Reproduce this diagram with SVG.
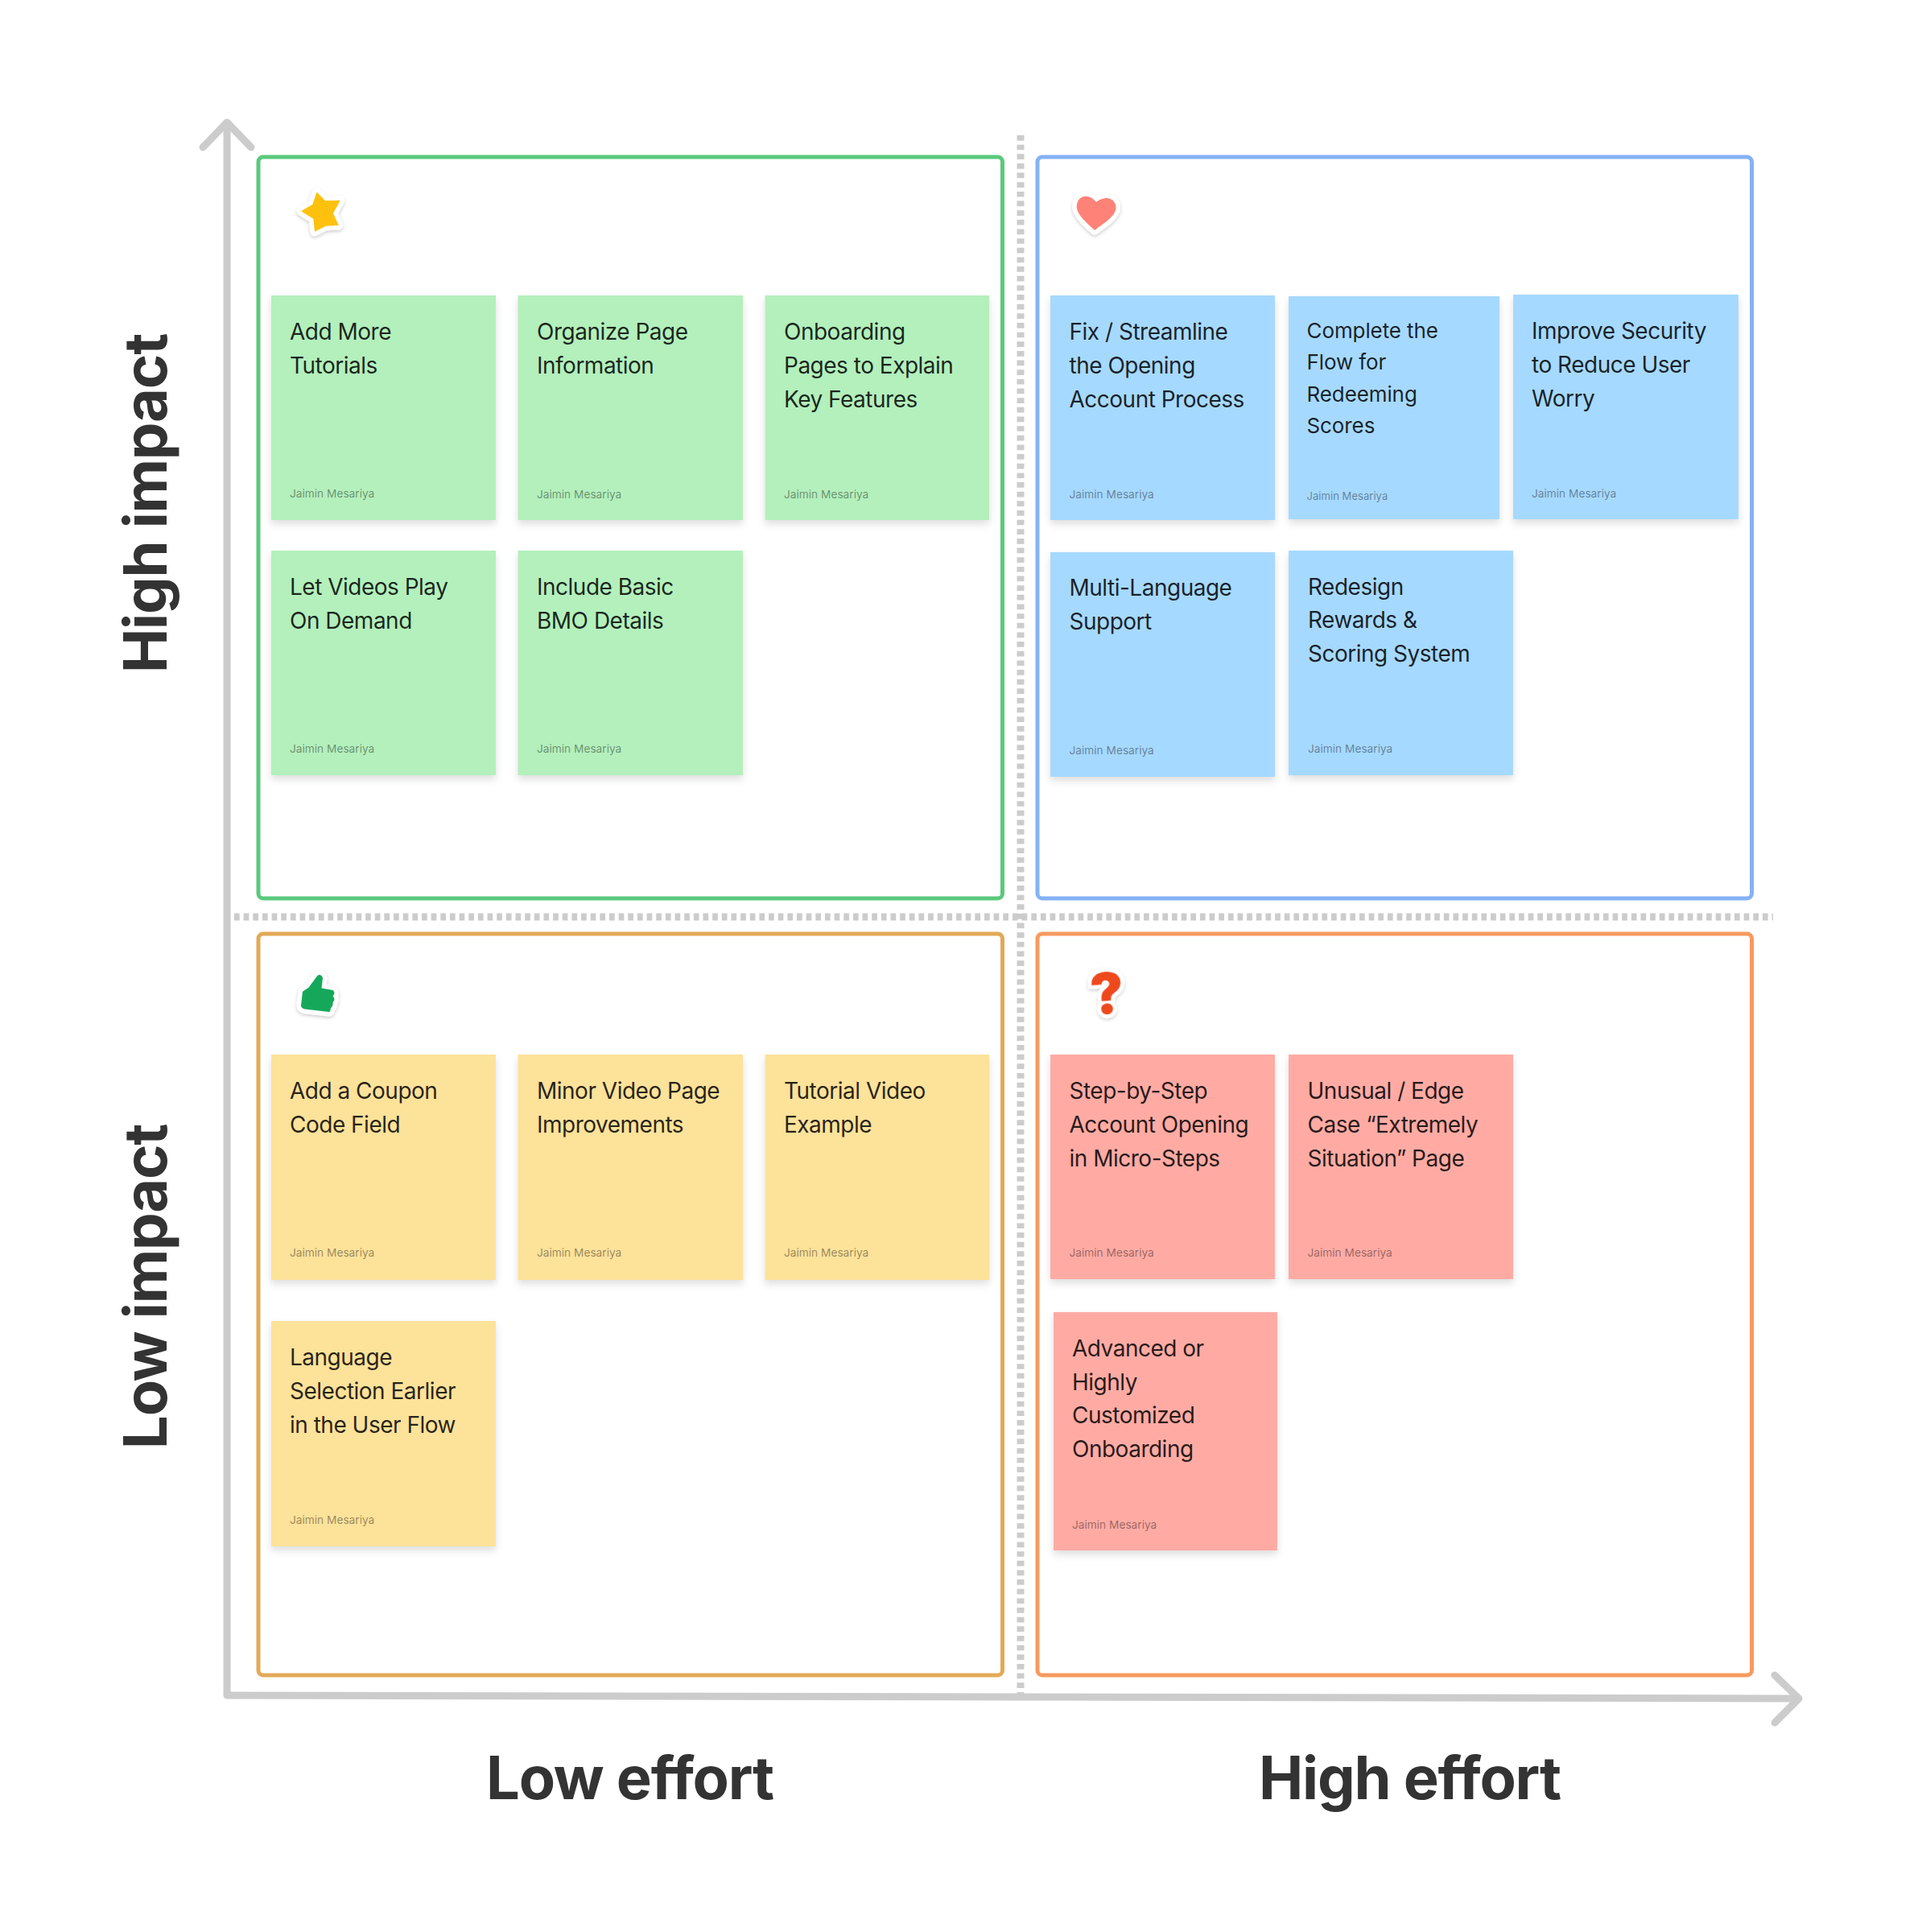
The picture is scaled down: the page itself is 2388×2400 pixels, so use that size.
<svg xmlns="http://www.w3.org/2000/svg" width="2388" height="2400" viewBox="0 0 2388 2400">
<defs>
<filter id="sh" x="-10%" y="-10%" width="120%" height="125%"><feDropShadow dx="0" dy="5" stdDeviation="5" flood-color="#000" flood-opacity="0.13"/></filter>
<filter id="st" x="-30%" y="-30%" width="160%" height="160%"><feDropShadow dx="0" dy="2" stdDeviation="2" flood-color="#000" flood-opacity="0.2"/></filter>
</defs>
<style>
text{font-family:Inter,"Noto Sans","Liberation Sans",sans-serif}
.frame{fill:none;stroke-width:5}
.g{fill:#b3f0bc}.b{fill:#a6d9ff}.y{fill:#fde29a}.r{fill:#ffaba4}
.card{filter:url(#sh)}
.t{font-size:28px;letter-spacing:-.5px;fill:#000;fill-opacity:.85}
.ts{font-size:26px;letter-spacing:-.1px;fill:#000;fill-opacity:.85}
.a{font-size:13.7px;fill:#000;fill-opacity:.42}
.as{font-size:13.100px;fill:#000;fill-opacity:.42}
.big{font-size:74px;font-weight:700;fill:#333;letter-spacing:-1.200px}
.axis{fill:none;stroke:#ccc;stroke-width:9;stroke-linecap:round;stroke-linejoin:round}
.dot{fill:none;stroke:#ccc;stroke-width:9;stroke-dasharray:6.7 4.95}
.sticker{stroke:#fff;stroke-width:11;stroke-linejoin:round;paint-order:stroke;filter:url(#st)}
</style>
<rect width="2388" height="2400" fill="#fff"/>
<g id="connectors">
<path class="dot" d="M1268 168V2105"/>
<path class="dot" d="M291 1139H2203"/>
<path class="axis" d="M282 2105V153"/>
<path class="axis" d="M252 183L282 152L312 183"/>
<path class="axis" d="M282 2106L2234 2110"/>
<path class="axis" d="M2205 2081L2235 2110L2205 2140"/>
</g>
<g id="frame-green"><rect class="frame" x="321" y="195" width="924.500" height="921" rx="6" stroke="#5ac97c"/></g>
<g id="frame-blue"><rect class="frame" x="1289" y="195" width="887.500" height="921" rx="6" stroke="#84b2f5"/></g>
<g id="frame-yellow"><rect class="frame" x="321" y="1160" width="924.500" height="921" rx="6" stroke="#e3a956"/></g>
<g id="frame-orange"><rect class="frame" x="1289" y="1160" width="887.500" height="921" rx="6" stroke="#f79a5f"/></g>
<g id="icon-star"><path class="sticker" fill="#ffc107" d="M393.500 238.500L404 249.300L422.700 249L414 265L420.700 280L405 280.700L391 287.700L389.300 271.700L374 262.300L388.300 254Z"/></g>
<g id="icon-heart"><path class="sticker" fill="#ff8278" d="M1362 251C1357 245 1352 243.500 1347 244C1341 245 1337 251 1338 259C1339 267 1351 278 1360 286C1369 279 1385 270 1386.500 259C1387 251 1381 245.500 1374 246C1369 246.500 1365 248.500 1362 251Z"/></g>
<g id="icon-thumb"><path class="sticker" fill="#12a85a" d="M394 1212.500C396 1210 400 1210.500 401 1215L399.500 1227.500L413.500 1230C416 1232 416 1235 413.500 1237.500C416 1240 416 1243 413.500 1245C414 1248 413 1250.500 410.700 1252.700C411 1255 410 1257 408.700 1257L378.500 1253.500C375.500 1253 374 1251 374 1249L376 1231.700L383.500 1226.700Z"/></g>
<g id="icon-question"><text class="sticker" x="1376" y="1259" text-anchor="middle" font-size="70" font-weight="900" fill="#ee4a1c" transform="rotate(-5 1376 1240)" style="stroke-width:9">?</text></g>

<g id="note-add-more"><rect class="g card" x="337" y="367" width="279" height="279"/><text class="t" x="360" y="422">Add More</text><text class="t" x="360" y="464">Tutorials</text><text class="a" x="360" y="618">Jaimin Mesariya</text></g>
<g id="note-organize"><rect class="g card" x="643.500" y="367" width="279.500" height="279"/><text class="t" x="667" y="422">Organize Page</text><text class="t" x="667" y="464">Information</text><text class="a" x="667" y="618.500">Jaimin Mesariya</text></g>
<g id="note-onboarding"><rect class="g card" x="950.500" y="367" width="278.500" height="279"/><text class="t" x="974" y="422">Onboarding</text><text class="t" x="974" y="464">Pages to Explain</text><text class="t" x="974" y="506">Key Features</text><text class="a" x="974" y="618.500">Jaimin Mesariya</text></g>
<g id="note-videos"><rect class="g card" x="337" y="684" width="279" height="279"/><text class="t" x="360" y="739">Let Videos Play</text><text class="t" x="360" y="780.500">On Demand</text><text class="a" x="360" y="935">Jaimin Mesariya</text></g>
<g id="note-bmo"><rect class="g card" x="643.500" y="684" width="279.500" height="279"/><text class="t" x="667" y="739">Include Basic</text><text class="t" x="667" y="780.500">BMO Details</text><text class="a" x="667" y="935">Jaimin Mesariya</text></g>

<g id="note-fix"><rect class="b card" x="1305" y="367" width="279" height="279"/><text class="t" x="1328.500" y="422">Fix / Streamline</text><text class="t" x="1328.500" y="464">the Opening</text><text class="t" x="1328.500" y="506">Account Process</text><text class="a" x="1328.500" y="618.500">Jaimin Mesariya</text></g>
<g id="note-complete"><rect class="b card" x="1601" y="368" width="262" height="277"/><text class="ts" x="1623.500" y="420">Complete the</text><text class="ts" x="1623.500" y="459">Flow for</text><text class="ts" x="1623.500" y="498.500">Redeeming</text><text class="ts" x="1623.500" y="538">Scores</text><text class="as" x="1623.500" y="620.500">Jaimin Mesariya</text></g>
<g id="note-security"><rect class="b card" x="1880" y="366" width="280" height="279"/><text class="t" x="1903" y="421">Improve Security</text><text class="t" x="1903" y="463">to Reduce User</text><text class="t" x="1903" y="505">Worry</text><text class="a" x="1903" y="617.500">Jaimin Mesariya</text></g>
<g id="note-language"><rect class="b card" x="1305" y="686" width="279" height="279"/><text class="t" x="1328.500" y="740">Multi-Language</text><text class="t" x="1328.500" y="782">Support</text><text class="a" x="1328.500" y="936.500">Jaimin Mesariya</text></g>
<g id="note-redesign"><rect class="b card" x="1601" y="684" width="279" height="279"/><text class="t" x="1625" y="738.500">Redesign</text><text class="t" x="1625" y="780">Rewards &amp;</text><text class="t" x="1625" y="822">Scoring System</text><text class="a" x="1625" y="935">Jaimin Mesariya</text></g>

<g id="note-coupon"><rect class="y card" x="337" y="1310" width="279" height="280"/><text class="t" x="360" y="1365">Add a Coupon</text><text class="t" x="360" y="1406.500">Code Field</text><text class="a" x="360" y="1561">Jaimin Mesariya</text></g>
<g id="note-minor"><rect class="y card" x="643.500" y="1310" width="279.500" height="280"/><text class="t" x="667" y="1365">Minor Video Page</text><text class="t" x="667" y="1406.500">Improvements</text><text class="a" x="667" y="1561">Jaimin Mesariya</text></g>
<g id="note-tutorial"><rect class="y card" x="950.500" y="1310" width="278.500" height="280"/><text class="t" x="974" y="1365">Tutorial Video</text><text class="t" x="974" y="1406.500">Example</text><text class="a" x="974" y="1561">Jaimin Mesariya</text></g>
<g id="note-selection"><rect class="y card" x="337" y="1641" width="279" height="280"/><text class="t" x="360" y="1696">Language</text><text class="t" x="360" y="1738">Selection Earlier</text><text class="t" x="360" y="1779.500">in the User Flow</text><text class="a" x="360" y="1892.500">Jaimin Mesariya</text></g>

<g id="note-step"><rect class="r card" x="1305" y="1310" width="279" height="279"/><text class="t" x="1328.500" y="1365">Step-by-Step</text><text class="t" x="1328.500" y="1406.500">Account Opening</text><text class="t" x="1328.500" y="1448.500">in Micro-Steps</text><text class="a" x="1328.500" y="1561">Jaimin Mesariya</text></g>
<g id="note-edge"><rect class="r card" x="1601" y="1310" width="279" height="279"/><text class="t" x="1624.500" y="1365">Unusual / Edge</text><text class="t" x="1624.500" y="1406.500">Case “Extremely</text><text class="t" x="1624.500" y="1448.500">Situation” Page</text><text class="a" x="1624.500" y="1561">Jaimin Mesariya</text></g>
<g id="note-advanced"><rect class="r card" x="1309" y="1630" width="278" height="296"/><text class="t" x="1332" y="1685">Advanced or</text><text class="t" x="1332" y="1726.500">Highly</text><text class="t" x="1332" y="1768">Customized</text><text class="t" x="1332" y="1810">Onboarding</text><text class="a" x="1332" y="1899">Jaimin Mesariya</text></g>

<g id="labels">
<text class="big" x="604" y="2235">Low effort</text>
<text class="big" x="1564" y="2235">High effort</text>
<text class="big" transform="translate(207 836) rotate(-90)">High impact</text>
<text class="big" transform="translate(207 1800) rotate(-90)">Low impact</text>
</g>
</svg>
